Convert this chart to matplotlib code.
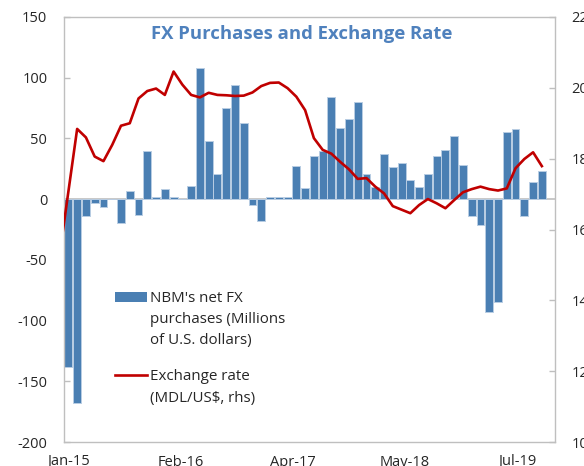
import numpy as np
import pandas as pd
import matplotlib
matplotlib.use("Agg")
import matplotlib.pyplot as plt
from matplotlib.patches import Rectangle
from matplotlib.lines import Line2D

plt.rcParams['font.family'] = ['Open Sans', 'DejaVu Sans']

# ---------------- data ----------------
bar_months = pd.date_range('2015-01-01', '2019-07-01', freq='MS')
purchases = [-138, -168, -13.7, -2.8, -6.8, 0, -19.5, 7.1, -12.9, 39.3,
             1.5, 8.2, 1.5, 0, 11, 107.6, 47.5, 20.3, 74.7, 93.6,
             62.6, -4.7, -17.8, 1.5, 1.5, 1.5, 27.2, 9.3, 35.4, 39.3,
             84.3, 58.5, 66.4, 79.6, 20.3, 10.1, 37.3, 26.4, 29.4, 15.4,
             10.1, 20.3, 35.4, 40.4, 52.4, 28.3, -13.7, -20.9, -92.8, -84.6,
             55.2, 57.4, -13.7, 14.3, 23.1]

rate_months = pd.date_range('2014-12-01', '2019-07-01', freq='MS')
rate = [15.3, 17.07, 18.84, 18.60, 18.06, 17.93, 18.39, 18.93, 19.00, 19.70,
        19.91, 19.98, 19.80, 20.46, 20.09, 19.80, 19.73, 19.86, 19.80, 19.79,
        19.77, 19.78, 19.87, 20.05, 20.14, 20.15, 19.99, 19.75, 19.37, 18.58,
        18.25, 18.14, 17.91, 17.70, 17.43, 17.45, 17.21, 17.02, 16.66, 16.56,
        16.46, 16.69, 16.86, 16.74, 16.60, 16.83, 17.05, 17.14, 17.21, 17.14,
        17.10, 17.16, 17.73, 17.99, 18.18, 17.79]

xtick_labels = ["Jan-15", "Feb-16", "Apr-17", "May-18", "Jul-19"]
left_ticks = [-200, -150, -100, -50, 0, 50, 100, 150]
right_ticks = [10, 12, 14, 16, 18, 20, 22]

title = "FX Purchases and Exchange Rate"
bar_label = ["NBM's net FX", "purchases (Millions", "of U.S. dollars)"]
line_label = ["Exchange rate", "(MDL/US$, rhs)"]

# ---------------- style ----------------
BAR = '#4A7FB3'
EDGE = '#B8CDE3'
LINE = '#C00000'
GRID = '#BFBFBF'
TXT = '#262626'
TITLE_C = '#4F81BD'

W, H = 584, 466
fig = plt.figure(figsize=(W / 100, H / 100), dpi=100)
ax = fig.add_axes([64 / W, 24 / H, 491 / W, 425 / H])

def month_pos(months):
    return np.array([(m.year - 2015) * 12 + (m.month - 1) for m in months], dtype=float)

xb = month_pos(bar_months)
xr = month_pos(rate_months)

ax.axhline(0, color=GRID, lw=1.2, zorder=1.5)
ax.bar(xb, purchases, width=0.9, color=BAR, edgecolor=EDGE, linewidth=0.7, zorder=2)
ax.set_ylim(-200, 150)
ax.set_yticks(left_ticks)
ax.set_yticklabels([str(t) for t in left_ticks])
ax.set_xlim(-0.5, 55.5)
ax.set_xticks(np.linspace(0, 51.2, len(xtick_labels)))
ax.set_xticklabels(xtick_labels)
ax.tick_params(axis='y', direction='in', length=4.5, width=1, color=GRID,
               labelsize=10.5, labelcolor=TXT, pad=12)
ax.tick_params(axis='x', length=0, labelsize=10.5, labelcolor=TXT, pad=9)
for s in ax.spines.values():
    s.set_color(GRID)
    s.set_linewidth(1.0)

ax2 = ax.twinx()
ax2.plot(xr, rate, color=LINE, lw=1.9, zorder=3)
ax2.set_ylim(10, 22)
ax2.set_yticks(right_ticks)
ax2.set_yticklabels([str(t) for t in right_ticks])
ax2.tick_params(axis='y', direction='in', length=4.5, width=1, color=GRID,
                labelsize=10.5, labelcolor=TXT, pad=12)
for s in ax2.spines.values():
    s.set_visible(False)
ax2.set_xlim(-0.5, 55.5)

# title
fig.text(301.7 / W, 1 - 39.3 / H, title, ha='center', va='baseline',
         fontsize=13.3, fontweight='bold', color=TITLE_C)

# legend (manual)
def fx(px):
    return px / W

def fy(py):
    return 1 - py / H

fig.add_artist(Rectangle((fx(115), fy(301.5)), 32 / W, 9.5 / H, transform=fig.transFigure,
                         facecolor=BAR, edgecolor='none'))
for i, t in enumerate(bar_label):
    fig.text(fx(150), fy(301.7 + 21.3 * i), t, ha='left', va='baseline',
             fontsize=10.9, color=TXT)
fig.add_artist(Line2D([fx(115), fx(147)], [fy(374.5), fy(374.5)], transform=fig.transFigure,
                      color=LINE, lw=1.9))
for i, t in enumerate(line_label):
    fig.text(fx(150), fy(380 + 21.7 * i), t, ha='left', va='baseline',
             fontsize=10.9, color=TXT)

fig.savefig('out.png', dpi=100)
